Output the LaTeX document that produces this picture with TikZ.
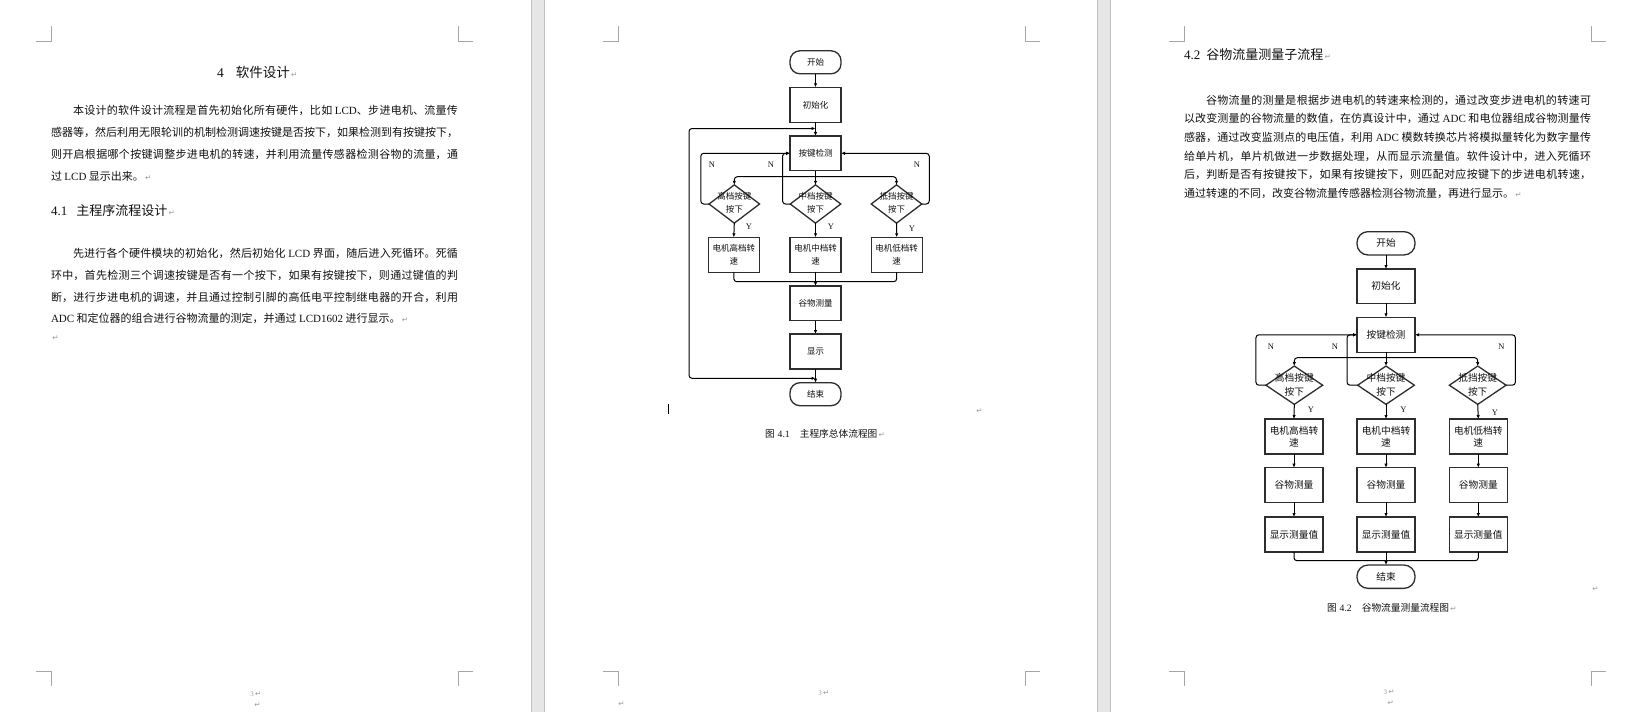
\documentclass[tikz,border=0pt]{standalone}
\usepackage{fontspec}
\setmainfont{Liberation Serif}
\newfontfamily\cjk{Noto Sans CJK SC}
\newfontfamily\dvs{DejaVu Sans}
\usetikzlibrary{shapes.geometric,arrows.meta}
\XeTeXlinebreaklocale "zh"
\XeTeXlinebreakskip=0pt plus 2pt
\definecolor{gapgray}{HTML}{E6E6E6}
\definecolor{gapedge}{HTML}{C2C2C2}
\definecolor{markgray}{HTML}{A6A6A6}
\definecolor{pmgray}{HTML}{9C9C9C}
\definecolor{boxline}{HTML}{2E2E2E}
\definecolor{ink}{HTML}{111111}
\newcommand\latn{\rmfamily}
\newcommand\pmk{{\dvs\color{pmgray}\fontsize{7.5}{7.5}\selectfont\,↵}}
\newcommand\jline[1]{\parbox{407pt}{\cjk\fontsize{11}{11}\selectfont\parfillskip=0pt\relax #1\par}}
\begin{document}
\begin{tikzpicture}[x=1pt,y=-1pt,
  every node/.style={inner sep=0pt,outer sep=0pt,text=ink},
  ptext/.style={anchor=west,font=\cjk\fontsize{11}{11}\selectfont},
  cornermk/.style={draw=markgray,line width=1pt},
  fbox/.style={draw=boxline,line width=1.3pt,minimum width=51pt,minimum height=35pt,align=center,font=\cjk\fontsize{8.5}{12.5}\selectfont},
  term/.style={fbox,minimum height=23pt,rounded corners=10pt},
  dia/.style={draw=boxline,line width=1.3pt,diamond,minimum width=50.5pt,minimum height=38.3pt},
  dtext/.style={align=center,font=\cjk\fontsize{8.5}{13.3}\selectfont},
  fbox2/.style={fbox,minimum width=58pt,font=\cjk\fontsize{9.7}{11.7}\selectfont},
  term2/.style={fbox2,minimum height=23.3pt,rounded corners=11pt},
  dia2/.style={dia,minimum width=56.7pt},
  dtext2/.style={align=center,font=\cjk\fontsize{9.7}{14}\selectfont},
  yn/.style={font=\latn\fontsize{8.5}{8.5}\selectfont},
  ln/.style={draw=black,line width=1pt,rounded corners=3pt},
  arr/.style={ln,-{Latex[length=4pt,width=3.4pt]}},
  darr/.style={ln,{Latex[length=4pt,width=3.4pt]}-{Latex[length=4pt,width=3.4pt]}},
  pnum/.style={font=\latn\fontsize{7}{7}\selectfont,text=pmgray}
]
\useasboundingbox (0,0) rectangle (1648,712);
\fill[white] (0,0) rectangle (1648,712);
% gaps between pages
\fill[gapgray] (531,0) rectangle (545,712);
\fill[gapgray] (1097,0) rectangle (1111,712);
\draw[gapedge,line width=1.2pt] (531.6,0) -- (531.6,712) (544.4,0) -- (544.4,712)
  (1097.6,0) -- (1097.6,712) (1110.4,0) -- (1110.4,712);
% corner marks
\foreach \L/\R in {51/458,618/1025,1184/1591}{
  \draw[cornermk] (\L-15,41) -- (\L,41) -- (\L,26);
  \draw[cornermk] (\R+15,41) -- (\R,41) -- (\R,26);
  \draw[cornermk] (\L-15,671) -- (\L,671) -- (\L,686);
  \draw[cornermk] (\R+15,671) -- (\R,671) -- (\R,686);
}
% ---------------- page 1 ----------------
\node[anchor=west] (h1) at (217,72) {\latn\fontsize{13.5}{13.5}\selectfont 4\hspace{12pt}\cjk 软件设计\pmk};
\node[anchor=west] (p1a) at (51,110.5) {\jline{\hspace*{22pt}本设计的软件设计流程是首先初始化所有硬件，比如 {\latn LCD}、步进电机、流量传}};
\node[anchor=west] (p1b) at (51,132.5) {\jline{感器等，然后利用无限轮训的机制检测调速按键是否按下，如果检测到有按键按下，}};
\node[anchor=west] (p1c) at (51,154.5) {\jline{则开启根据哪个按键调整步进电机的转速，并利用流量传感器检测谷物的流量，通}};
\node[ptext] (p1d) at (51,176.5) {过 {\latn LCD} 显示出来。\pmk};
\node[anchor=west] (h2) at (51,210.5) {\latn\fontsize{13}{13}\selectfont 4.1\hspace{9pt}\cjk 主程序流程设计\pmk};
\node[anchor=west] (p2a) at (51,253.5) {\jline{\hspace*{22pt}先进行各个硬件模块的初始化，然后初始化 {\latn LCD} 界面，随后进入死循环。死循}};
\node[anchor=west] (p2b) at (51,275) {\jline{环中，首先检测三个调速按键是否有一个按下，如果有按键按下，则通过键值的判}};
\node[anchor=west] (p2c) at (51,297) {\jline{断，进行步进电机的调速，并且通过控制引脚的高低电平控制继电器的开合，利用}};
\node[ptext] (p2d) at (51,318.5) {{\latn ADC} 和定位器的组合进行谷物流量的测定，并通过 {\latn LCD1602} 进行显示。\pmk};
\node[anchor=west] (p2e) at (51,338) {\pmk};
\node[pnum] (pg1) at (256,694) {3\pmk};
\node[pnum] (pg1b) at (257,705.5) {\pmk};
% ---------------- page 2: main flowchart ----------------
\node[term] (s1) at (815.5,62.3) {开始};
\node[fbox] (i1) at (815.5,104.8) {初始化};
\node[fbox,minimum height=34.7pt] (k1) at (815.5,153.3) {按键检测};
\node[dia] (da1) at (734.3,204) {};
\node[dia] (db1) at (815.5,204) {};
\node[dia] (dc1) at (896.5,204) {};
\node[dtext] (ta1) at (734.3,202.7) {高档按键\\按下};
\node[dtext] (tb1) at (815.5,202.7) {中档按键\\按下};
\node[dtext] (tc1) at (896.5,202.7) {抵挡按键\\按下};
\node[fbox] (ma1) at (733.8,254.8) {电机高档转\\速};
\node[fbox] (mb1) at (815.5,254.8) {电机中档转\\速};
\node[fbox] (mc1) at (896.7,254.8) {电机低档转\\速};
\node[fbox,minimum height=34.7pt] (g1) at (815.5,303.3) {谷物测量};
\node[fbox] (x1) at (815.5,351.5) {显示};
\node[term] (e1) at (815.5,394.2) {结束};
\coordinate (br1) at (815.5,176.7);
\coordinate (mg1) at (815.5,281.7);
\coordinate (lb1) at (689,378.3);
\coordinate (lbe1) at (815.5,378.3);
\coordinate (lt1) at (815.5,128.5);
\draw[arr] (s1) -- (i1);
\draw[arr] (i1) -- (k1);
\draw[arr] (k1.south) -- (db1.north);
\draw[arr] (br1) -| (da1.north);
\draw[arr] (br1) -| (dc1.north);
\draw[arr] (da1.west) -- ++(-8.3,0) |- (k1.west);
\draw[arr] (db1.west) -- ++(-7.7,0) |- (k1.west);
\draw[arr] (dc1.east) -- ++(7.5,0) |- (k1.east);
\draw[arr] (da1.south) -- (ma1.north);
\draw[arr] (db1.south) -- (mb1.north);
\draw[arr] (dc1.south) -- (mc1.north);
\draw[ln] (ma1.south) |- (mg1);
\draw[ln] (mc1.south) |- (mg1);
\draw[arr] (mb1.south) -- (g1.north);
\draw[arr] (g1) -- (x1);
\draw[arr] (x1) -- (e1);
\draw[darr] (lbe1) -- (lb1) |- (lt1);
\node[yn] (n1a) at (712,165) {N};
\node[yn] (n1b) at (771,165) {N};
\node[yn] (n1c) at (917,165) {N};
\node[yn] (y1a) at (749,227) {Y};
\node[yn] (y1b) at (831,227) {Y};
\node[yn] (y1c) at (912,229) {Y};
\draw[line width=1pt] (668,404) -- (668,414);
\node[anchor=west] (pm2) at (975,411) {\pmk};
\node[anchor=west] (cap1) at (765,434) {\cjk\fontsize{9.7}{9.7}\selectfont 图\hspace{3pt}{\latn 4.1}\hspace{10pt}主程序总体流程图\pmk};
\node[pnum] (pg2) at (824,693) {3\pmk};
\node[pnum] (pg2b) at (621,704.5) {\pmk};
% ---------------- page 3 ----------------
\node[anchor=west] (h3) at (1184,55) {\latn\fontsize{13}{13}\selectfont 4.2\hspace{6pt}\cjk 谷物流量测量子流程\pmk};
\node[anchor=west] (q1) at (1184,100) {\jline{\hspace*{22pt}谷物流量的测量是根据步进电机的转速来检测的，通过改变步进电机的转速可}};
\node[anchor=west] (q2) at (1184,118.6) {\jline{以改变测量的谷物流量的数值，在仿真设计中，通过 {\latn ADC} 和电位器组成谷物测量传}};
\node[anchor=west] (q3) at (1184,137.3) {\jline{感器，通过改变监测点的电压值，利用 {\latn ADC} 模数转换芯片将模拟量转化为数字量传}};
\node[anchor=west] (q4) at (1184,156) {\jline{给单片机，单片机做进一步数据处理，从而显示流量值。软件设计中，进入死循环}};
\node[anchor=west] (q5) at (1184,174.5) {\jline{后，判断是否有按键按下，如果有按键按下，则匹配对应按键下的步进电机转速，}};
\node[ptext] (q6) at (1184,193) {通过转速的不同，改变谷物流量传感器检测谷物流量，再进行显示。\pmk};
% flowchart 2
\node[term2] (s2) at (1386,243.3) {开始};
\node[fbox2,minimum height=34.3pt] (i2) at (1386,286.2) {初始化};
\node[fbox2] (k2) at (1386,334.8) {按键检测};
\node[dia2] (da2) at (1294.3,385.2) {};
\node[dia2] (db2) at (1386,385.2) {};
\node[dia2] (dc2) at (1477.7,385.2) {};
\node[dtext2] (ta2) at (1294.3,384.7) {高档按键\\按下};
\node[dtext2] (tb2) at (1386,384.7) {中档按键\\按下};
\node[dtext2] (tc2) at (1477.7,384.7) {抵挡按键\\按下};
\node[fbox2] (ma2) at (1294,436.5) {电机高档转\\速};
\node[fbox2] (mb2) at (1386,436.5) {电机中档转\\速};
\node[fbox2] (mc2) at (1478.3,436.5) {电机低档转\\速};
\node[fbox2,minimum height=34.7pt] (ga2) at (1294,485) {谷物测量};
\node[fbox2,minimum height=34.7pt] (gb2) at (1386,485) {谷物测量};
\node[fbox2,minimum height=34.7pt] (gc2) at (1478.3,485) {谷物测量};
\node[fbox2] (xa2) at (1294,534.5) {显示测量值};
\node[fbox2] (xb2) at (1386,534.5) {显示测量值};
\node[fbox2] (xc2) at (1478.3,534.5) {显示测量值};
\node[term2] (e2) at (1386,576.7) {结束};
\coordinate (br2) at (1386,357.7);
\coordinate (mg2) at (1386,560.7);
\draw[arr] (s2) -- (i2);
\draw[arr] (i2) -- (k2);
\draw[arr] (k2.south) -- (db2.north);
\draw[arr] (br2) -| (da2.north);
\draw[arr] (br2) -| (dc2.north);
\draw[arr] (da2.west) -- ++(-10,0) |- (k2.west);
\draw[arr] (db2.west) -- ++(-10.6,0) |- (k2.west);
\draw[arr] (dc2.east) -- ++(9.3,0) |- (k2.east);
\draw[arr] (da2.south) -- (ma2.north);
\draw[arr] (db2.south) -- (mb2.north);
\draw[arr] (dc2.south) -- (mc2.north);
\draw[arr] (ma2) -- (ga2);
\draw[arr] (mb2) -- (gb2);
\draw[arr] (mc2) -- (gc2);
\draw[arr] (ga2) -- (xa2);
\draw[arr] (gb2) -- (xb2);
\draw[arr] (gc2) -- (xc2);
\draw[ln] (xa2.south) |- (mg2);
\draw[ln] (xc2.south) |- (mg2);
\draw[arr] (xb2.south) -- (e2.north);
\node[yn] (n2a) at (1271,346.7) {N};
\node[yn] (n2b) at (1335,346.7) {N};
\node[yn] (n2c) at (1501.3,346.7) {N};
\node[yn] (y2a) at (1311,410) {Y};
\node[yn] (y2b) at (1403.3,410) {Y};
\node[yn] (y2c) at (1495,413) {Y};
\node[anchor=west] (pm3) at (1591,589) {\pmk};
\node[anchor=west] (cap2) at (1327,607.7) {\cjk\fontsize{9.7}{9.7}\selectfont 图\hspace{3pt}{\latn 4.2}\hspace{10pt}谷物流量测量流程图\pmk};
\node[pnum] (pg3) at (1389,692) {3\pmk};
\node[pnum] (pg3b) at (1390,703) {\pmk};
\end{tikzpicture}
\end{document}
